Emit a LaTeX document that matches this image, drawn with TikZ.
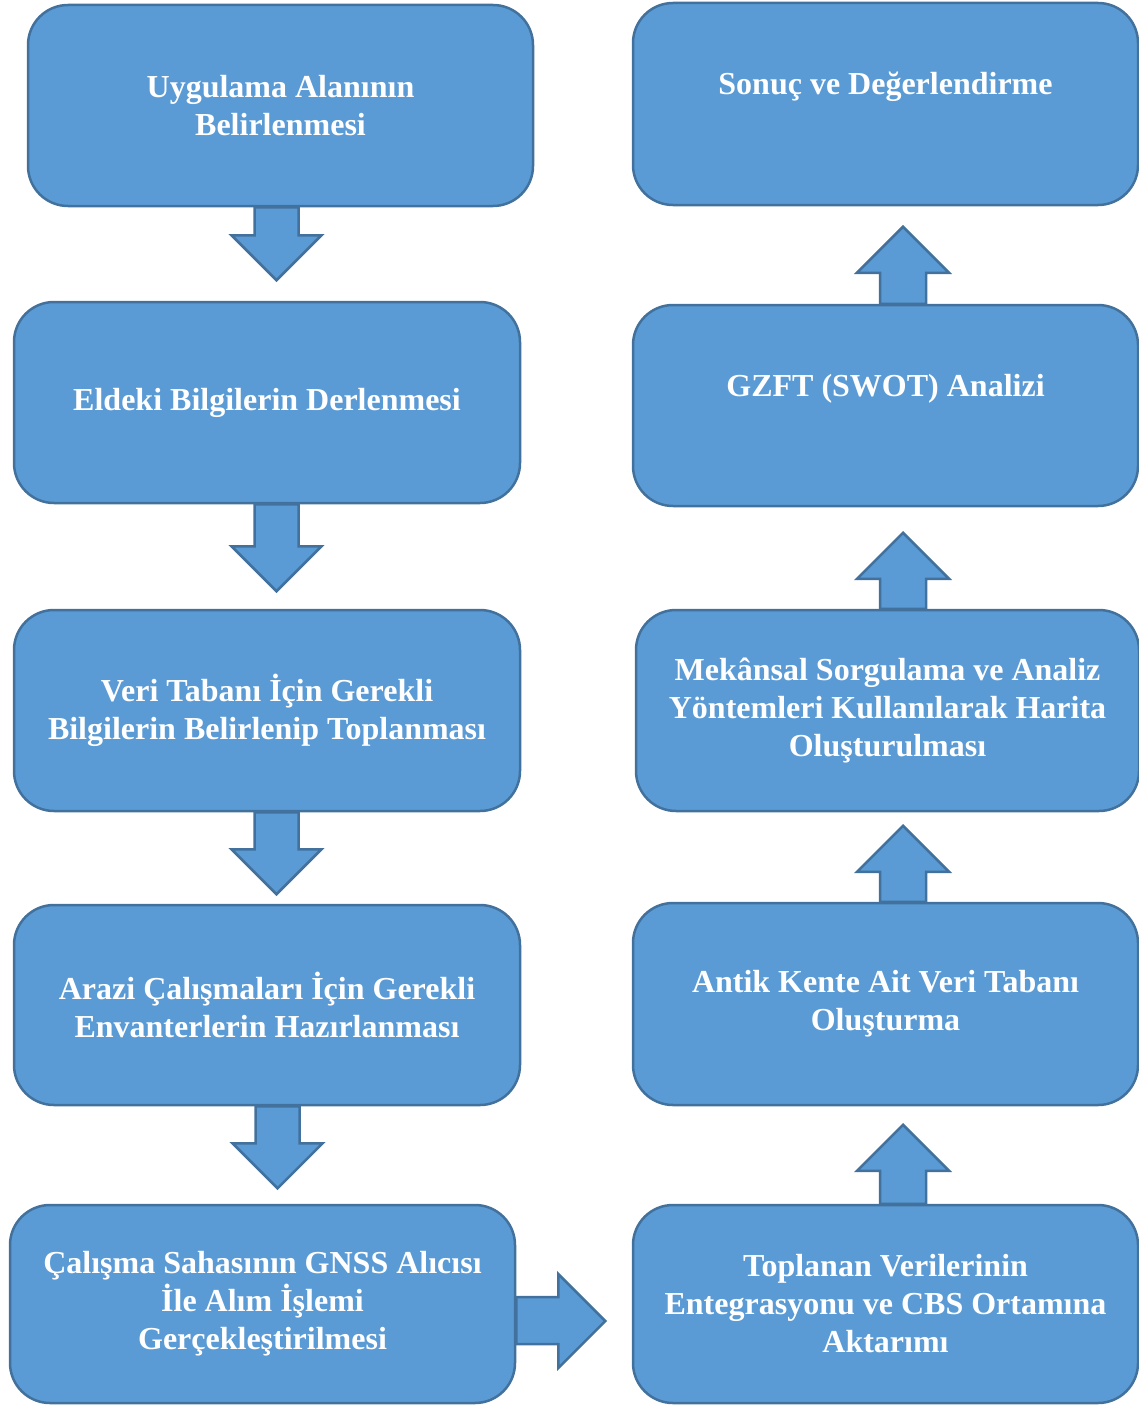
\documentclass[tikz,border=0pt]{standalone}
\usepackage{fontspec}
\setmainfont{Liberation Serif}
\usetikzlibrary{calc}

\definecolor{boxfill}{HTML}{5B9BD5}
\definecolor{boxline}{HTML}{41719C}

\tikzset{
  stepbox/.style={draw=boxline, fill=boxfill, line width=2.5pt, rounded corners=40pt,
    minimum width=505pt, minimum height=201pt, align=center, text=white,
    font=\bfseries\fontsize{32}{38}\selectfont},
  hightext/.style={text depth=41pt},
  blockarr/.style={draw=boxline, fill=boxfill, line width=2.5pt, line join=miter}
}

% #1 node, #2 shaft offset from centre, #3 shaft length
\newcommand{\downarr}[3]{%
  \draw[blockarr] ($(#1.south)+(#2-22,0)$) -- ++(0,#3) -- ++(-23,0) -- ++(45,45)
    -- ++(45,-45) -- ++(-23,0) -- ++(0,-#3) -- cycle;}
\newcommand{\uparr}[3]{%
  \draw[blockarr] ($(#1.north)+(#2-23,0)$) -- ++(0,-#3) -- ++(-23,0) -- ++(46,-46)
    -- ++(46,46) -- ++(-23,0) -- ++(0,#3) -- cycle;}

\begin{document}
\begin{tikzpicture}[x=1pt, y=-1pt]
  \useasboundingbox (0,0) rectangle (1139,1405);

  % left column
  \node[stepbox] (uygulama) at (280.5,105.5) {Uygulama Alanının\\Belirlenmesi};
  \node[stepbox, minimum width=506pt] (eldeki) at (267,402.5) {Eldeki Bilgilerin Derlenmesi};
  \node[stepbox, minimum width=506pt] (veri) at (267,710.5) {Veri Tabanı İçin Gerekli\\Bilgilerin Belirlenip Toplanması};
  \node[stepbox, minimum width=506pt, minimum height=200pt] (arazi) at (267,1005) {Arazi Çalışmaları İçin Gerekli\\Envanterlerin Hazırlanması};
  \node[stepbox, minimum height=198pt] (calisma) at (262.5,1304) {Çalışma Sahasının GNSS Alıcısı\\İle Alım İşlemi\\Gerçekleştirilmesi};

  % right column
  \node[stepbox, minimum height=198pt] (toplanan) at (885.5,1304) {Toplanan Verilerinin\\Entegrasyonu ve CBS Ortamına\\Aktarımı};
  \node[stepbox, minimum height=202pt] (antik) at (885.5,1004) {Antik Kente Ait Veri Tabanı\\Oluşturma};
  \node[stepbox, minimum width=503pt] (mekansal) at (887.5,710.5) {Mekânsal Sorgulama ve Analiz\\Yöntemleri Kullanılarak Harita\\Oluşturulması};
  \node[stepbox, hightext] (gzft) at (885.5,405.5) {GZFT (SWOT) Analizi};
  \node[stepbox, hightext, minimum height=202pt] (sonuc) at (885.5,104) {Sonuç ve Değerlendirme};

  \downarr{uygulama}{-4}{28}
  \downarr{eldeki}{9.5}{42}
  \downarr{veri}{9.5}{37}
  \downarr{arazi}{10.5}{37}

  \draw[blockarr] ($(calisma.east)+(0,-7)$) -- ++(42,0) -- ++(0,-23) -- ++(47,47)
    -- ++(-47,47) -- ++(0,-24) -- ++(-42,0) -- cycle;

  \uparr{toplanan}{17.5}{33}
  \uparr{antik}{17.5}{30}
  \uparr{mekansal}{15.5}{30}
  \uparr{gzft}{17.5}{31}
\end{tikzpicture}
\end{document}
